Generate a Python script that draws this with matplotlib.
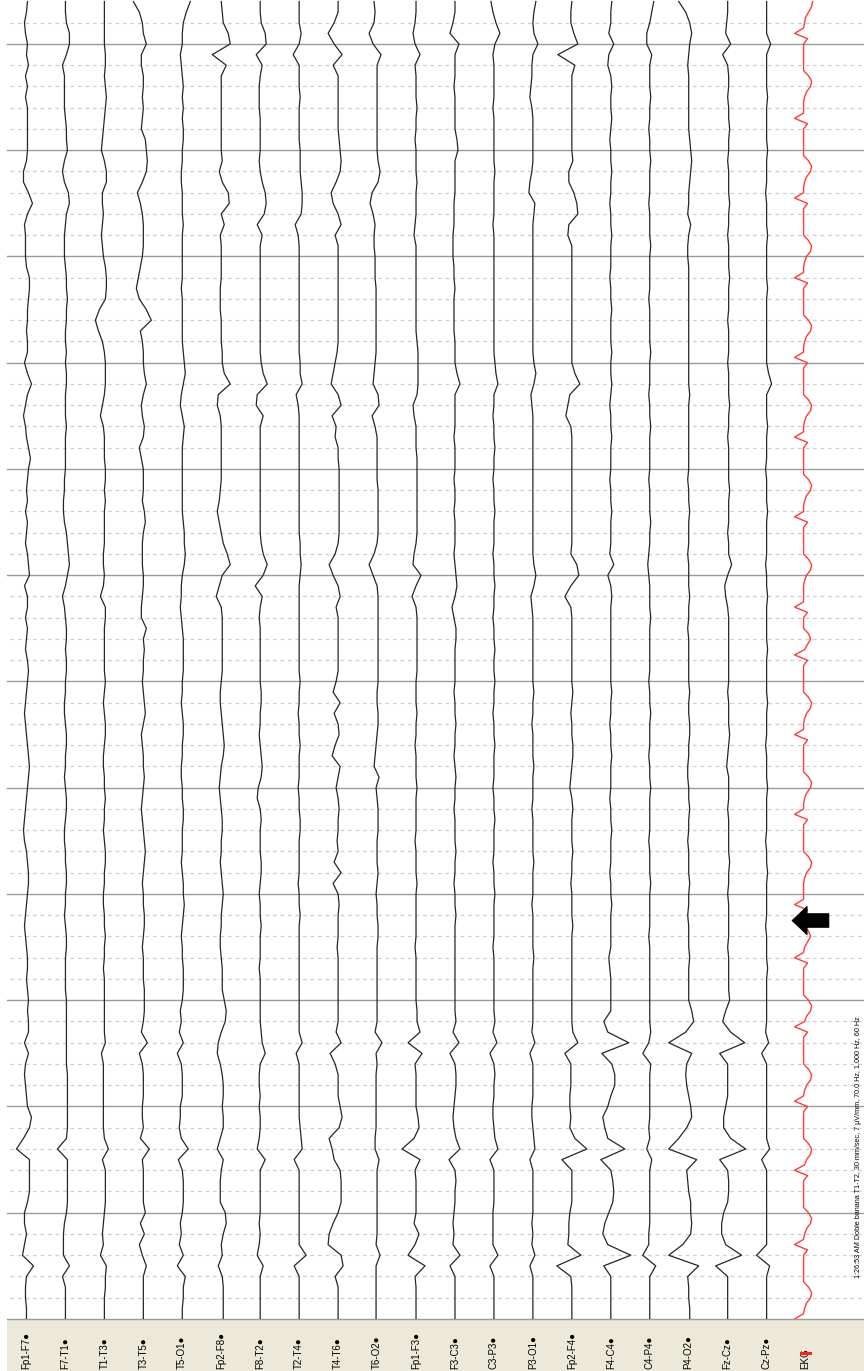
import numpy as np
import matplotlib
matplotlib.use("Agg")
import matplotlib.pyplot as plt
from matplotlib.patches import Rectangle, Polygon

# ---------------- data ----------------
channel_names = ["Fp1-F7", "F7-T1", "T1-T3", "T3-T5", "T5-O1", "Fp2-F8", "F8-T2",
                 "T2-T4", "T4-T6", "T6-O2", "Fp1-F3", "F3-C3", "C3-P3", "P3-O1",
                 "Fp2-F4", "F4-C4", "C4-P4", "P4-O2", "Fz-Cz", "Cz-Pz", "EKG"]

t_first = -0.4      # seconds, first sample (top of page)
t_step = 0.1        # EEG sample step (s)
ekg_step = 0.05     # EKG sample step (s)
t_last = 12.0

# deflections (display units, + = right)
fp1_f7 = [1,0,-2,-1,1,0,2,-1,1,-1, 1,1,1,1,1,0,-3,-3,2,6, 1,-2,-1,-1,-1,0,3,3,2,1, 1,
          0,1,1,-2,1,5,1,-1,-3,-1, 0,2,4,2,1,0,1,-1,1,0, -1,1,2,3,-2,1,1,-1,1,0, -1,1,
          2,1,0,-1,-2,-1,0,1,2,3, 2,1,0,-1,-2,-3,-2,0,1,2, 2,1,0,-1,-2,-1,0,1,1,0,
          1,2,1,2,2,-2,2,-1,-2,-1, 0,1,5,3,-3,-10,3,3,3,3, 1,-2,-2,0,-2,-4,7,0,-1,-1, 0,0]
f7_t1 = [0,0,1,4,4,1,-3,-1,-1,-1, -1,0,1,1,2,-1,-3,-1,3,4, 1,0,-1,-1,-1,0,1,1,2,1, 1,
         0,0,1,0,1,1,0,0,0,1, 0,0,0,0,-1,-1,-2,-2,-1,1, 2,3,4,2,0,-3,-1,0,1,1, 0,1,
         1,0,0,-1,-1,0,1,1,0,0, -1,0,1,1,0,-1,-1,0,0,1, 1,0,0,-1,0,1,1,0,0,0,
         0,1,1,1,1,1,1,1,2,2, 2,2,2,2,1,-8,2,2,2,2, 2,1,-1,-2,-2,-2,4,-3,0,0, 0,0]
t1_t3 = [0,0,0,0,0,1,1,0,1,2, 1,0,-1,-2,-3,0,2,2,-2,-2, -1,-2,-3,-2,-1,1,2,2,1,-5, -9,
         -6,-2,0,1,1,1,0,-2,-4,-1, 0,0,0,1,1,0,1,0,0,0, 0,-1,-1,0,-1,-4,1,1,0,0, 0,0,
         0,1,0,-1,0,1,1,0,-1,-1, 0,0,1,0,0,-1,0,1,1,0, 0,-1,-1,0,0,1,0,0,-1,0,
         0,0,0,0,0,1,-3,-1,-1,-1, -1,-1,-1,-1,0,4,-2,1,1,1, 1,0,-1,-2,-1,-4,2,1,1,0, 0,0]
t3_t5 = [-10,-4,-1,0,3,-2,-2,0,0,-1, 0,-1,-2,2,3,4,3,-1,-6,-3, -1,0,0,0,-1,-3,-5,-7,-4,3, 8,
         -3,-1,0,0,1,3,0,-2,-1,1, 0,-4,-2,0,0,0,-1,1,2,0, -1,-1,-1,0,0,-1,-2,-2,3,0, 1,0,
         0,-1,0,1,2,0,-2,-1,0,0, 1,0,-1,-2,-1,0,1,2,1,0, -1,0,0,1,1,0,-1,0,0,0,
         1,1,1,0,-2,4,-4,-1,0,0, 0,-1,-1,0,-3,6,-1,0,0,0, 0,2,-3,1,-4,-1,3,0,0,0, 0,0]
t5_o1 = [8,4,1,0,0,-2,-1,0,1,0, 1,0,1,1,0,0,-1,-1,0,0, 0,1,0,0,0,0,0,-1,0,0, 0,
         0,0,1,2,3,1,-1,-2,0,2, 1,0,0,0,0,0,0,0,1,2, 2,3,2,0,-1,-1,-2,-1,0,1, 1,1,
         1,0,0,-1,0,1,1,0,0,-1, -1,0,0,1,1,0,0,0,-1,0, 1,1,2,1,0,-1,0,0,1,1,
         1,0,-2,-1,-3,1,-5,-1,0,0, 0,-2,-2,-3,-1,6,-4,0,1,1, 1,0,-2,-1,-3,1,-5,3,1,1, 0,0]
fp2_f8 = [0,1,2,7,9,-9,5,0,0,0, 0,0,0,0,0,1,-2,1,7,8, 0,3,-1,0,0,0,0,-1,-1,-1, 0,
          0,0,1,1,3,9,-3,-4,-1,0, 0,0,0,0,0,-1,-2,-4,-2,0, 2,6,9,1,-2,-5,0,1,1,1, 1,1,
          1,0,-1,-1,0,1,2,3,2,0, -1,-2,-1,0,1,1,0,0,-1,0, 1,2,1,0,0,-1,-1,0,1,1,
          1,3,5,4,0,-3,-4,-1,1,2, 2,1,2,2,-1,-4,2,0,-1,-1, -1,4,5,2,0,1,-3,1,2,2, 2,2]
f8_t2 = [0,0,1,5,6,-4,2,0,-1,-1, -1,0,0,0,0,-1,0,2,5,6, 4,-3,2,0,0,0,0,0,0,0, 0,
         0,0,0,1,3,7,-3,-4,3,0, 0,0,0,0,0,0,0,0,0,0, 1,3,7,3,-5,2,0,-1,0,0, 0,0,
         0,0,1,1,0,0,-1,0,1,2, 1,-2,-3,0,1,0,0,0,1,1, 0,-1,0,0,1,0,0,0,-1,0,
         0,0,0,0,1,2,5,0,-1,-1, 0,-1,0,0,-1,-3,5,0,0,0, 0,0,-1,0,-1,-3,3,0,0,0, 0,0]
t2_t4 = [0,0,0,2,0,-6,0,0,0,1, 0,0,0,0,1,1,1,2,3,3, 2,-4,-1,0,0,0,0,0,0,0, 0,
         0,0,0,1,1,3,-3,-1,0,0, 0,0,0,0,0,0,0,0,0,0, 1,1,2,1,0,0,0,0,0,0, 0,0,
         0,1,0,0,-1,0,0,1,0,0, 0,-1,0,0,1,1,0,0,0,0, -1,0,0,1,0,0,0,0,0,0,
         0,0,0,0,0,3,-3,0,0,0, 0,0,0,1,2,3,-5,0,0,0, 0,0,0,0,0,7,-5,0,0,0, 0,0]
t4_t6 = [0,0,-4,-10,-4,4,-5,0,0,0, 0,0,0,1,2,3,2,-2,-7,-5, 0,3,-3,0,0,0,0,0,0,0, 0,
         0,0,-1,-3,-5,-7,0,3,-6,-2, -3,0,0,1,1,1,1,1,1,1, 0,-3,-9,-5,0,2,-2,0,0,0, 0,0,
         0,-2,-5,2,-4,0,1,-3,-6,2, 0,-2,0,1,0,0,-1,0,-4,3, -5,0,1,0,0,0,-1,0,0,0,
         0,0,0,0,-2,3,-8,-3,0,0, 0,2,4,1,-9,-6,-4,2,3,3, 3,0,-5,-9,-10,3,5,-3,0,0, 0,0]
t6_o2 = [-3,-2,-3,-8,-4,4,0,0,0,0, 0,0,0,0,0,1,3,1,-5,-7, -4,-2,-3,-3,-2,-2,-2,-1,-1,-1, -1,
         -1,-1,-1,-2,-3,-4,1,2,-5,-2, 0,0,0,0,0,1,1,1,1,1, 0,-3,-8,-4,0,1,1,1,1,1, 1,1,
         1,1,0,0,1,1,0,-1,-2,-3, 2,-1,0,1,1,1,0,0,0,1, 0,-1,0,0,1,1,0,0,0,0,
         0,0,0,0,-2,5,-1,0,-1,-1, -1,-1,-1,-1,-2,-2,2,0,0,0, 0,0,0,0,-1,3,-1,-1,-1,-1, -1,-1]
fp1_f3 = [0,0,-1,-3,-1,4,-1,0,0,0, 1,0,0,-1,0,0,0,1,0,0, 0,-1,-2,0,0,0,0,0,0,0, 0,
          0,1,2,2,2,2,1,-3,-2,0, 0,0,1,1,1,1,1,1,1,1, 0,-2,-3,5,0,-4,0,1,1,1, 1,1,
          1,0,0,0,1,0,0,-1,0,0, 0,1,0,0,0,0,-1,0,0,0, 1,0,0,0,0,0,-1,0,0,0,
          0,0,1,1,4,-8,6,-1,0,0, 0,0,2,3,-2,-14,4,-1,0,0, 0,0,-2,3,-1,-8,9,-1,0,0, 0,0]
f3_c3 = [0,0,-2,-5,4,0,0,0,-1,0, 0,0,0,2,3,0,0,0,0,-1, -1,-1,-2,-2,-2,-1,-1,0,-1,-1, -1,
         -1,0,0,0,2,5,0,0,0,0, -1,0,0,0,-1,0,0,-1,0,0, 0,-1,0,1,2,0,-3,-1,1,1, 0,0,
         0,0,-1,0,0,1,0,0,-1,0, 1,0,0,-1,0,0,0,1,0,0, -1,0,0,1,0,0,0,0,0,0,
         0,0,0,1,-2,4,-5,0,1,1, 0,-1,-2,-1,1,5,-6,0,1,0, 0,-1,-2,-1,-2,5,-5,0,0,0, 0,0]
c3_p3 = [-3,-1,2,6,1,-1,0,0,0,0, -1,0,0,0,0,0,1,0,0,0, 0,-1,0,0,0,0,0,0,0,0, 0,
         0,0,0,1,2,4,0,0,-1,0, 0,1,0,0,-1,0,0,1,0,0, 0,-1,0,0,1,0,0,-1,0,0, 1,0,
         0,1,0,0,-1,0,0,1,0,0, 0,-1,0,0,1,0,0,0,-1,0, 0,1,0,0,0,0,-1,0,0,0,
         0,0,0,1,-1,3,-4,0,1,0, 0,-1,-1,0,1,4,-4,0,0,0, 0,-1,-1,-1,-1,4,-4,0,0,0, 0,0]
p3_o1 = [3,1,0,1,5,0,-1,-1,-2,-3, -1,0,0,0,0,0,-1,-3,-4,2, 1,0,0,0,0,0,0,0,0,0, 0,
         0,0,0,1,3,1,-2,-1,0,0, 0,0,0,0,0,0,0,0,0,0, 0,0,1,3,1,-2,-1,0,0,0, 0,0,
         0,0,1,0,0,-1,0,0,0,1, 0,0,0,-1,0,0,0,0,1,0, 0,0,-1,0,0,0,0,1,0,0,
         0,0,0,0,-1,2,-3,0,0,0, 0,-1,-1,0,1,2,-3,0,0,0, 0,0,-1,0,-1,2,-3,0,0,0, 0,0]
fp2_f4 = [0,-1,-1,2,6,-14,3,0,0,0, 0,0,0,0,0,1,-3,-3,2,5, 6,-3,-4,0,0,0,0,0,0,0, 0,
          0,0,0,0,3,8,-2,-4,-6,-1, 0,0,0,0,0,0,0,0,0,0, 0,-1,5,7,-1,-7,-1,0,0,0, 0,0,
          0,0,1,0,-1,0,0,1,1,0, -1,-2,0,1,0,0,0,1,0,0, -1,0,0,0,1,0,0,0,0,0,
          0,0,0,0,1,6,-7,-1,-1,-1, -2,-2,-1,-2,3,15,-10,0,0,0, 0,-2,-3,-3,-4,9,-15,-1,0,0, 0,0]
f4_c4 = [1,0,0,-2,3,-2,-3,0,1,0, 0,1,0,-1,0,0,1,0,0,-1, 0,0,1,0,0,0,-1,0,0,1, 0,
         0,0,1,0,0,1,0,-1,0,0, 1,0,0,0,-1,0,0,1,0,0, 0,-1,3,-3,0,1,0,0,0,0, 0,0,
         0,0,1,0,0,-1,0,0,1,0, 0,0,-1,0,0,1,0,0,0,-1, 0,0,1,0,0,0,0,-2,-1,0,
         0,0,0,-7,-3,18,-9,1,4,4, 0,-3,-8,-6,-3,14,-10,0,2,3, 2,-2,-6,-8,-3,20,-7,0,0,0, 0,0]
c4_p4 = [4,2,0,-3,-3,2,0,0,0,1, 0,0,-1,0,0,1,0,0,0,-1, 0,0,0,1,0,0,0,0,-1,0, 0,
         0,0,1,0,0,0,-1,0,0,1, 0,0,0,0,-1,0,0,0,1,0, 0,-1,-2,-1,0,0,0,1,0,0, 0,0,
         0,-1,0,0,1,0,0,0,-1,0, 0,1,0,0,0,0,-1,0,0,0, 1,0,0,0,0,-1,0,0,0,0,
         0,0,0,0,1,-1,-7,1,0,0, 0,0,0,-1,0,-3,2,0,0,0, 0,0,0,-1,-1,-7,6,0,0,0, 0,0]
p4_o2 = [-10,-3,1,3,1,0,-1,0,0,0, 0,0,0,1,2,3,2,1,0,0, -1,2,0,-1,-1,0,0,0,0,0, 0,
         0,0,0,0,0,0,1,0,0,0, 0,0,0,0,-1,0,0,1,0,0, 0,-1,0,0,0,1,0,0,-1,0, 0,0,
         0,0,1,0,0,1,1,0,0,-1, -1,0,0,1,0,0,-1,0,0,0, 1,0,0,-1,0,0,0,1,0,0,
         0,0,3,5,-3,-20,3,-2,-3,-2, 0,2,3,-2,-10,-20,8,-2,-1,0, 2,2,3,2,-6,-20,10,-1,0,0, 1,1]
fz_cz = [0,0,-1,-2,3,-5,0,1,1,0, 1,1,2,1,1,0,1,1,1,2, 1,1,0,1,1,1,2,1,1,1, 0,
         1,1,1,0,1,1,1,2,1,1, 0,1,1,1,1,2,1,1,1,0, 1,1,4,0,-3,-2,0,1,1,1, 1,1,
         1,1,0,1,1,1,2,1,0,-1, 1,1,1,0,1,1,1,1,2,1, 1,0,1,1,1,1,0,1,1,1,
         1,2,-2,-5,3,17,-8,0,0,0, 0,-2,-4,-4,3,18,-8,0,1,1, 0,-4,-6,-6,-2,14,-12,0,0,0, 0,0]
cz_pz = [0,0,0,0,4,0,0,0,0,1, 0,0,0,0,1,0,0,0,-1,0, 0,0,1,0,0,0,0,1,0,0, 0,
         0,0,0,0,2,5,0,0,0,1, 0,0,0,-1,0,0,0,1,0,0, 0,0,-1,0,0,1,0,0,0,0, 1,0,
         0,0,0,1,0,0,0,-1,0,0, 0,1,0,0,0,0,-1,0,0,1, 0,0,0,0,-1,0,0,0,1,0,
         0,0,0,0,-1,2,-5,0,0,0, 0,0,0,0,0,3,-5,0,0,0, 0,0,0,0,0,-10,3,0,0,0, 0,0]
ekg = [7,6,3,0,-1,-2,-11,2,-2,-2, -2,-2,-2,-2,3,6,5,1,-1,-2,
       -2,-2,-11,2,-2,-2,-2,-2,-2,-2, 3,6,5,1,-1,-2,-2,-11,2,-2,
       -2,-2,-2,-2,-2,3,6,5,1,-1, -2,-2,-11,2,-2,-2,-2,-2,-2,-2,
       3,6,5,1,-1,-2,-2,-11,2,-2, -2,-2,-2,-2,-2,3,6,5,1,-1,
       -2,-2,-11,2,-2,-2,-2,-2,-2,-2, 3,6,5,1,-1,-2,-2,-11,2,-2,
       -2,-2,-2,-2,-2,3,6,5,1,-1, -2,-2,-2,-2,-11,2,-2,-2,-2,3,
       5,2,-1,-11,2,-2,-2,-2,-2,-2, -2,3,6,5,1,-1,-2,-2,-11,2,
       -2,-2,-2,-2,-2,-2,3,6,5,1, -1,-2,-2,-11,2,-2,-2,-2,-2,-2,
       -2,3,6,5,1,-1,-2,-2,-2,-2, -11,2,-2,-2,-2,3,5,2,-1,-2,
       -11,2,-2,-2,-2,-2,-2,-2,3,6, 5,1,-1,-11,2,-2,-2,-2,-2,-2,
       -2,3,6,5,1,-1,-2,-11,2,-2, -2,-2,-2,-2,-2,3,6,5,1,-1,
       -11,2,-2,-2,-2,-2,-2,-2,3,6, 5,1,-1,-2,-11,2,-2,-2,-2,-2,
       -2,-2,3,6,5,1,-1,-2,-11]

eeg_traces = [fp1_f7, f7_t1, t1_t3, t3_t5, t5_o1, fp2_f8, f8_t2, t2_t4, t4_t6, t6_o2,
              fp1_f3, f3_c3, c3_p3, p3_o1, fp2_f4, f4_c4, c4_p4, p4_o2, fz_cz, cz_pz]

footer = "1:26:53 AM Doble banana T1-T2, 30 mm/sec, 7 \u00b5V/mm, 70.0 Hz, 1.000 Hz, 60 Hz"

# ---------------- figure ----------------
W, H = 864, 1371
PLOT_LEFT, PLOT_BOTTOM = 7, 52
fig = plt.figure(figsize=(W / 100, H / 100), dpi=100)
fig.patch.set_facecolor("white")

# label panel (drawn below everything)
fig.patches.append(Rectangle((PLOT_LEFT / W, 0), (W - PLOT_LEFT) / W, PLOT_BOTTOM / H,
                             transform=fig.transFigure, facecolor="#ece9d8",
                             edgecolor="none", zorder=-5))

ax = fig.add_axes([PLOT_LEFT / W, PLOT_BOTTOM / H, (W - PLOT_LEFT) / W, (H - PLOT_BOTTOM) / H])
ax.set_xlim(-0.5, 21.5)
ax.set_ylim(t_last, -0.414)
ax.axis("off")
spacing_px = (W - PLOT_LEFT) / 22.0  # pixels per channel

# grid: seconds solid, 200 ms dashed
for s in range(0, 13):
    ax.axhline(s, color="#9a9a9a", lw=1.0, zorder=1, clip_on=False)
for n in range(-1, 60):
    tt = n * 0.2
    if abs(tt - round(tt)) > 1e-6:
        ax.axhline(tt, xmin=0.004, color="#cfcfcf", lw=0.9, ls=(0, (3, 3)), zorder=1)

# EEG traces
t_eeg = t_first + t_step * np.arange(len(fp1_f7))
for i, tr in enumerate(eeg_traces):
    assert len(tr) == len(t_eeg), (channel_names[i], len(tr))
    ax.plot(i + np.asarray(tr) / spacing_px, t_eeg, color="#262626", lw=0.9, zorder=3)

# EKG
t_ekg = t_first + ekg_step * np.arange(len(ekg))
ax.plot(20 + np.asarray(ekg) / spacing_px, t_ekg, color="#ff3c3c", lw=1.0, zorder=3)

# arrow annotation (pointing left at EKG around 8.25 s)
arrow_t, arrow_x = 8.25, 19.65
head_len, head_half, shaft_half, total_len = 0.39, 0.135, 0.065, 0.95
arrow = Polygon([(arrow_x, arrow_t),
                 (arrow_x + head_len, arrow_t - head_half),
                 (arrow_x + head_len, arrow_t - shaft_half),
                 (arrow_x + total_len, arrow_t - shaft_half),
                 (arrow_x + total_len, arrow_t + shaft_half),
                 (arrow_x + head_len, arrow_t + shaft_half),
                 (arrow_x + head_len, arrow_t + head_half)],
                closed=True, facecolor="black", edgecolor="black", lw=0.5, zorder=5)
ax.add_patch(arrow)

# channel labels
label_font = ["Liberation Sans Narrow", "Liberation Sans", "DejaVu Sans"]
for i, name in enumerate(channel_names):
    txt = name + ("\u25cf" if name != "EKG" else "")
    xf = (PLOT_LEFT + (i + 0.5) * spacing_px) / W
    fig.text(xf, 2 / H, txt, rotation=90, ha="center", va="bottom", fontsize=7,
             family=label_font, color="black", zorder=10)
# red marker on EKG label
x_ekg = PLOT_LEFT + 20.5 * spacing_px
fig.patches.append(Rectangle(((x_ekg - 6) / W, (H - 1355) / H), 12 / W, 3 / H,
                             transform=fig.transFigure, facecolor="#ff2020",
                             edgecolor="none", zorder=11))

# footer text
fig.text(858 / W, (H - 1278) / H, footer, rotation=90, ha="center", va="bottom",
         fontsize=5.2, family=label_font, color="black", zorder=10)

fig.savefig("out.png", dpi=100, facecolor="white")
